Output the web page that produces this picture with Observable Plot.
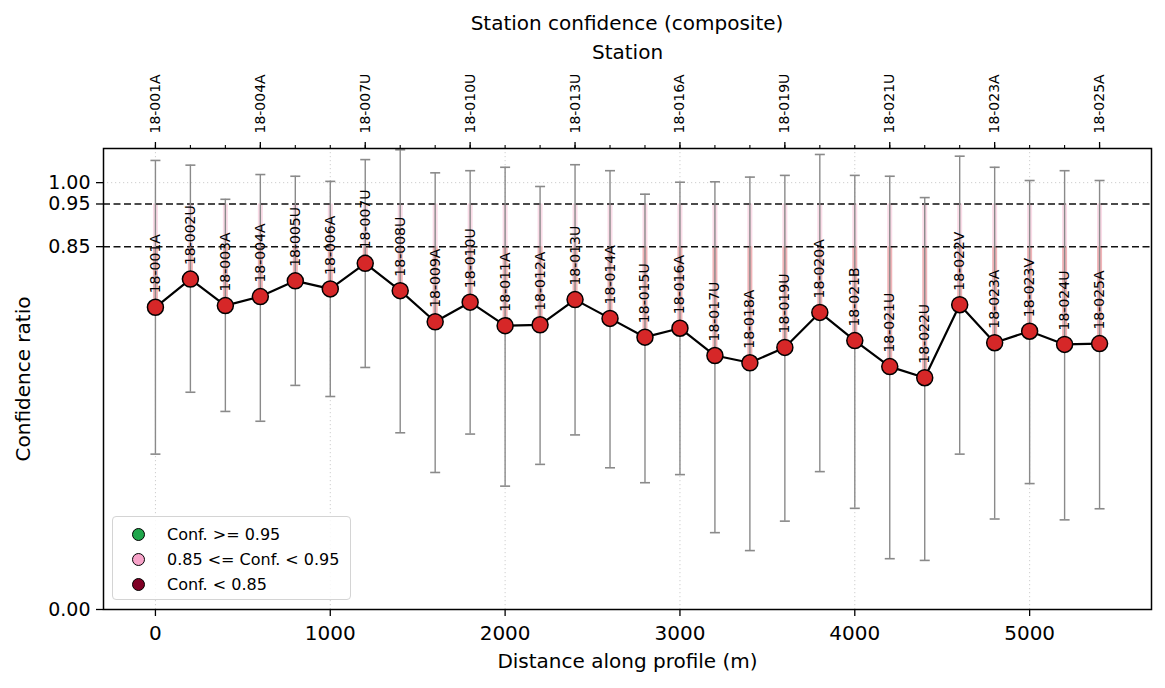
<!DOCTYPE html>
<html>
<head>
<meta charset="utf-8">
<script src="https://cdn.jsdelivr.net/npm/d3@7"></script>
<script src="https://cdn.jsdelivr.net/npm/@observablehq/plot@0.6"></script>
<style>
  html, body { margin: 0; padding: 0; background: #fff; }
  #wrap { position: relative; width: 1165px; height: 688px; font-family: "DejaVu Sans", sans-serif; }
  #title { height: 40px; box-sizing: border-box; padding-top: 3px; line-height: 40px; margin-left: 103px; width: 1048px; text-align: center; font-size: 20px; color: #000; white-space: nowrap; }
  #legend { position: absolute; left: 112px; top: 516px; width: 239px; height: 84px; box-sizing: border-box; border: 1px solid #d4d4d4; border-radius: 4px; background: rgba(255,255,255,0.85); padding-top: 5px; }
  .lrow { position: relative; height: 25px; font-size: 16px; line-height: 25px; }
  .lmark { position: absolute; left: 19px; top: 6px; width: 11px; height: 11px; border-radius: 50%; border: 1.3px solid #000; }
  .ltext { position: absolute; left: 54px; top: 0; white-space: nowrap; }
</style>
</head>
<body>
<div id="wrap">
  <div id="title"></div>
  <div id="chart"></div>
  <div id="legend"></div>
</div>
<script>
// ---------- data ----------
const titleText = "Station confidence (composite)";
const stations = ["18-001A","18-002U","18-003A","18-004A","18-005U","18-006A","18-007U","18-008U","18-009A","18-010U","18-011A","18-012A","18-013U","18-014A","18-015U","18-016A","18-017U","18-018A","18-019U","18-020A","18-021B","18-021U","18-022U","18-022V","18-023A","18-023V","18-024U","18-025A"];
const distance = [0,200,400,600,800,1000,1200,1400,1600,1800,2000,2200,2400,2600,2800,3000,3200,3400,3600,3800,4000,4200,4400,4600,4800,5000,5200,5400];
const confidence = [0.708,0.774,0.712,0.733,0.770,0.751,0.811,0.747,0.674,0.720,0.665,0.667,0.726,0.682,0.638,0.659,0.595,0.578,0.614,0.696,0.630,0.569,0.543,0.714,0.625,0.652,0.621,0.623];
const lower = [0.364,0.509,0.464,0.441,0.525,0.499,0.567,0.414,0.321,0.411,0.289,0.340,0.409,0.332,0.297,0.316,0.180,0.138,0.207,0.323,0.237,0.119,0.115,0.364,0.212,0.295,0.210,0.236];
const upper = [1.052,1.041,0.961,1.019,1.015,1.003,1.054,1.077,1.023,1.028,1.036,0.991,1.042,1.028,0.973,1.001,1.002,1.013,1.017,1.066,1.017,1.015,0.965,1.062,1.036,1.005,1.028,1.005];
const thresholds = [0.85, 0.95];
const yTicks = [0, 0.85, 0.95, 1.0];
const xTicks = [0, 1000, 2000, 3000, 4000, 5000];
const topTickLabels = ["18-001A","18-004A","18-007U","18-010U","18-013U","18-016A","18-019U","18-021U","18-023A","18-025A"];
const legendLabels = ["Conf. >= 0.95", "0.85 <= Conf. < 0.95", "Conf. < 0.85"];
const legendColors = ["#1fa64b", "#f7a3c9", "#7f0025"];

// ---------- build ----------
const data = stations.map((name, i) => ({name, dist: distance[i], conf: confidence[i], lo: lower[i], hi: upper[i]}));
const topTickPos = topTickLabels.map(s => distance[stations.indexOf(s)]);
const capSymbol = { draw(ctx, size) { const w = Math.sqrt(size / Math.PI); ctx.moveTo(-w, 0); ctx.lineTo(w, 0); } };

document.getElementById("title").textContent = titleText;

const chart = Plot.plot({
  width: 1165,
  height: 648,
  marginLeft: 103,
  marginRight: 14,
  marginTop: 108,
  marginBottom: 79,
  style: { fontFamily: "DejaVu Sans, sans-serif", fontSize: "20px", color: "#000", background: "#fff" },
  x: { domain: [-297, 5697] },
  y: { domain: [0, 1.08] },
  marks: [
    Plot.gridX(xTicks, { stroke: "#c8c8c8", strokeOpacity: 1, strokeWidth: 0.9, strokeDasharray: "1.2,2.8" }),
    Plot.gridY([1.0], { stroke: "#c8c8c8", strokeOpacity: 1, strokeWidth: 0.9, strokeDasharray: "1.2,2.8" }),
    // confidence bands toward the thresholds
    Plot.ruleX(data, { x: "dist", y1: "conf", y2: () => thresholds[0], stroke: "#f1b4b8", strokeWidth: 5 }),
    Plot.ruleX(data, { x: "dist", y1: () => thresholds[0], y2: () => thresholds[1], stroke: "#fadbe7", strokeWidth: 5 }),
    Plot.ruleY(thresholds, { stroke: "#111", strokeWidth: 1.5, strokeDasharray: "7,3.5" }),
    // error bars
    Plot.ruleX(data, { x: "dist", y1: "lo", y2: "hi", stroke: "#8a8a8a", strokeWidth: 1.4 }),
    Plot.dot(data, { x: "dist", y: "lo", symbol: capSymbol, r: 5, stroke: "#8a8a8a", strokeWidth: 1.6, fill: "none" }),
    Plot.dot(data, { x: "dist", y: "hi", symbol: capSymbol, r: 5, stroke: "#8a8a8a", strokeWidth: 1.6, fill: "none" }),
    // series
    Plot.line(data, { x: "dist", y: "conf", stroke: "#000", strokeWidth: 2.2 }),
    Plot.dot(data, { x: "dist", y: "conf", r: 8, fill: "#d62728", stroke: "#000", strokeWidth: 1.5 }),
    Plot.text(data, { x: "dist", y: "conf", text: "name", rotate: -90, textAnchor: "start", lineAnchor: "middle", dy: -14, fontSize: 14, fill: "#000" }),
    // frame & axes
    Plot.frame({ stroke: "#000", strokeWidth: 1.5 }),
    Plot.axisX({ anchor: "bottom", ticks: xTicks, tickFormat: d => String(d), tickSize: 7, tickPadding: 9, strokeWidth: 1.3, label: null }),
    Plot.axisY({ anchor: "left", ticks: yTicks, tickFormat: d3.format(".2f"), tickSize: 7, tickPadding: 6, strokeWidth: 1.3, fontSize: 19, label: null }),
    Plot.axisX({ anchor: "top", ticks: distance, tickFormat: () => "", tickSize: 4, strokeWidth: 1.1, label: null }),
    Plot.axisX({ anchor: "top", ticks: topTickPos, tickFormat: d => stations[distance.indexOf(d)], tickRotate: -90, tickSize: 7, tickPadding: 8, strokeWidth: 1.3, fontSize: 14, label: null }),
    // axis titles
    Plot.text(["Distance along profile (m)"], { frameAnchor: "bottom", dy: 52, lineAnchor: "middle", fontSize: 20 }),
    Plot.text(["Station"], { frameAnchor: "top", dy: -96, lineAnchor: "middle", fontSize: 20 }),
    Plot.text(["Confidence ratio"], { frameAnchor: "left", dx: -80, rotate: -90, lineAnchor: "middle", textAnchor: "middle", fontSize: 20 })
  ]
});
document.getElementById("chart").appendChild(chart);

// legend
const legend = document.getElementById("legend");
legendLabels.forEach((lab, i) => {
  const row = document.createElement("div");
  row.className = "lrow";
  const m = document.createElement("span");
  m.className = "lmark";
  m.style.background = legendColors[i];
  const t = document.createElement("span");
  t.className = "ltext";
  t.textContent = lab;
  row.appendChild(m); row.appendChild(t);
  legend.appendChild(row);
});
</script>
</body>
</html>
